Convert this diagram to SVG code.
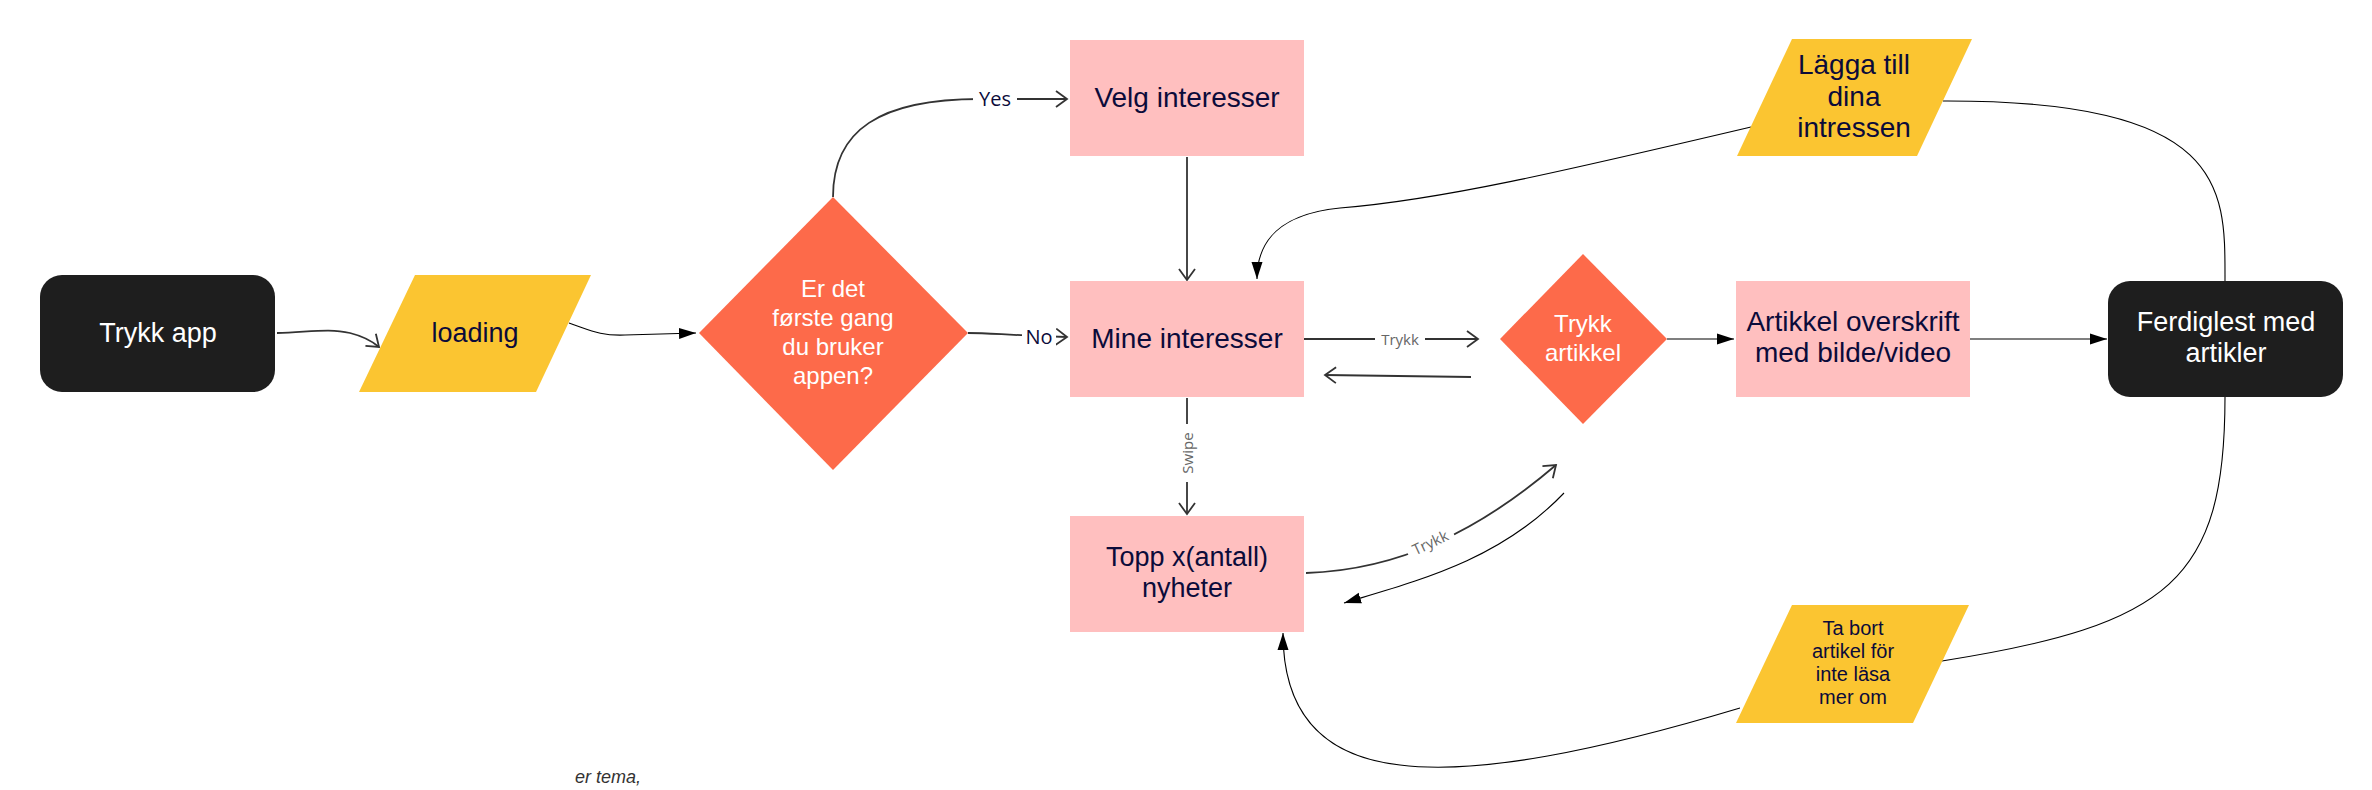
<svg xmlns="http://www.w3.org/2000/svg" width="2372" height="790" viewBox="0 0 2372 790">
<style>
.term{fill:#1e1e1e}
.io{fill:#fbc531}
.dec{fill:#fd6a4a}
.proc{fill:#ffbfbf}
.t{font-family:"Liberation Sans",Arial,sans-serif;font-size:28px;fill:#0b0b3a;text-anchor:middle}
.tw{font-family:"Liberation Sans",Arial,sans-serif;font-size:27px;fill:#ffffff;text-anchor:middle}
.td{font-family:"Liberation Sans",Arial,sans-serif;font-size:24px;fill:#ffffff;text-anchor:middle}
.ts{font-family:"Liberation Sans",Arial,sans-serif;font-size:20px;fill:#0b0b3a;text-anchor:middle}
.lbl{font-family:"Open Sans",sans-serif;font-size:20px;fill:#0b0b3a;text-anchor:middle;dominant-baseline:central}
.lblg{font-family:"Open Sans",sans-serif;font-size:15px;fill:#666;text-anchor:middle;dominant-baseline:central}
.c{fill:none;stroke:#333;stroke-width:1.8}
.cb{fill:none;stroke:#000;stroke-width:1.1}
</style>
<defs>
<marker id="open" markerWidth="14" markerHeight="18" refX="12" refY="9" orient="auto" markerUnits="userSpaceOnUse"><path d="M1,1 L12,9 L1,17" fill="none" stroke="#333" stroke-width="1.8"/></marker>
<marker id="fill" markerWidth="18" markerHeight="12" refX="17" refY="6" orient="auto" markerUnits="userSpaceOnUse"><path d="M0,0.5 L17,6 L0,11.5 z" fill="#000"/></marker>
</defs>
<rect width="2372" height="790" fill="#fff"/>

<g id="connectors">
<path class="c" d="M277,333 C310,332 330,328 350,333 C362,336 372,341 379,347" marker-end="url(#open)"/>
<path class="cb" d="M569,323 C590,330 600,336 625,335 L696,333" marker-end="url(#fill)"/>
<path class="c" d="M833,197 C833,130 880,99 980,99 L1067,99" marker-end="url(#open)"/>
<rect x="973" y="86" width="44" height="26" fill="#fff"/>
<text class="lbl" x="995" y="98">Yes</text>
<path class="c" d="M968,333 C990,333 1005,335 1067,337" marker-end="url(#open)"/>
<rect x="1022" y="323" width="34" height="26" fill="#fff"/>
<text class="lbl" x="1039" y="336">No</text>
<path class="c" d="M1187,157 L1187,280" marker-end="url(#open)"/>
<path class="c" d="M1187,398 L1187,514" marker-end="url(#open)"/>
<rect x="1178" y="424" width="18" height="58" fill="#fff"/>
<text class="lblg" transform="translate(1187,453) rotate(-90)" x="0" y="0">Swipe</text>
<path class="c" d="M1304,339 L1478,339" marker-end="url(#open)"/>
<rect x="1375" y="329" width="50" height="20" fill="#fff"/>
<text class="lblg" x="1400" y="339">Trykk</text>
<path class="c" d="M1471,377 L1325,375" marker-end="url(#open)"/>
<path class="c" d="M1306,573 C1400,570 1480,530 1556,465" marker-end="url(#open)"/>
<g transform="translate(1430,542) rotate(-25)"><rect x="-25" y="-10" width="50" height="20" fill="#fff"/><text class="lblg" x="0" y="0">Trykk</text></g>
<path class="cb" d="M1564,493 C1500,560 1420,580 1344,603" marker-end="url(#fill)"/>
<path class="cb" d="M1667,339 L1734,339" marker-end="url(#fill)"/>
<path class="cb" d="M1970,339 L2107,339" marker-end="url(#fill)"/>
<path class="cb" d="M1751,127 C1560,172 1440,200 1340,208 C1280,214 1257,240 1257,279" marker-end="url(#fill)"/>
<path class="cb" d="M1943,101 C2230,100 2225,190 2225,281"/>
<path class="cb" d="M2225,397 C2225,580 2170,625 1942,661"/>
<path class="cb" d="M1740,708 C1600,750 1480,775 1400,765 C1310,755 1283,700 1283,633" marker-end="url(#fill)"/>
</g>

<g id="trykk-app"><rect class="term" x="40" y="275" width="235" height="117" rx="22"/><text class="tw" x="158" y="342">Trykk app</text></g>
<g id="loading"><polygon class="io" points="415,275 591,275 536,392 359,392"/><text class="t" x="475" y="342" style="font-size:27px">loading</text></g>
<g id="forste-gang"><polygon class="dec" points="833,197 968,333 833,470 699,333"/>
<text class="td" x="833" y="297">Er det</text><text class="td" x="833" y="326">første gang</text><text class="td" x="833" y="355">du bruker</text><text class="td" x="833" y="384">appen?</text></g>
<g id="velg-interesser"><rect class="proc" x="1070" y="40" width="234" height="116"/><text class="t" x="1187" y="107">Velg interesser</text></g>
<g id="mine-interesser"><rect class="proc" x="1070" y="281" width="234" height="116"/><text class="t" x="1187" y="348">Mine interesser</text></g>
<g id="topp"><rect class="proc" x="1070" y="516" width="234" height="116"/><text class="t" x="1187" y="566" style="font-size:27px">Topp x(antall)</text><text class="t" x="1187" y="597" style="font-size:27px">nyheter</text></g>
<g id="trykk-artikkel"><polygon class="dec" points="1583,254 1667,339 1583,424 1500,339"/><text class="td" x="1583" y="332">Trykk</text><text class="td" x="1583" y="361">artikkel</text></g>
<g id="artikkel"><rect class="proc" x="1736" y="281" width="234" height="116"/><text class="t" x="1853" y="331">Artikkel overskrift</text><text class="t" x="1853" y="362">med bilde/video</text></g>
<g id="ferdiglest"><rect class="term" x="2108" y="281" width="235" height="116" rx="22"/><text class="tw" x="2226" y="331">Ferdiglest med</text><text class="tw" x="2226" y="362">artikler</text></g>
<g id="lagga"><polygon class="io" points="1792,39 1972,39 1917,156 1737,156"/><text class="t" x="1854" y="74">Lägga till</text><text class="t" x="1854" y="106">dina</text><text class="t" x="1854" y="137">intressen</text></g>
<g id="ta-bort"><polygon class="io" points="1792,605 1969,605 1913,723 1736,723"/><text class="ts" x="1853" y="635">Ta bort</text><text class="ts" x="1853" y="658">artikel för</text><text class="ts" x="1853" y="681">inte läsa</text><text class="ts" x="1853" y="704">mer om</text></g>
<text x="575" y="783" style="font-family:'Liberation Sans',Arial,sans-serif;font-size:18px;font-style:italic;fill:#333">er tema,</text>
</svg>
